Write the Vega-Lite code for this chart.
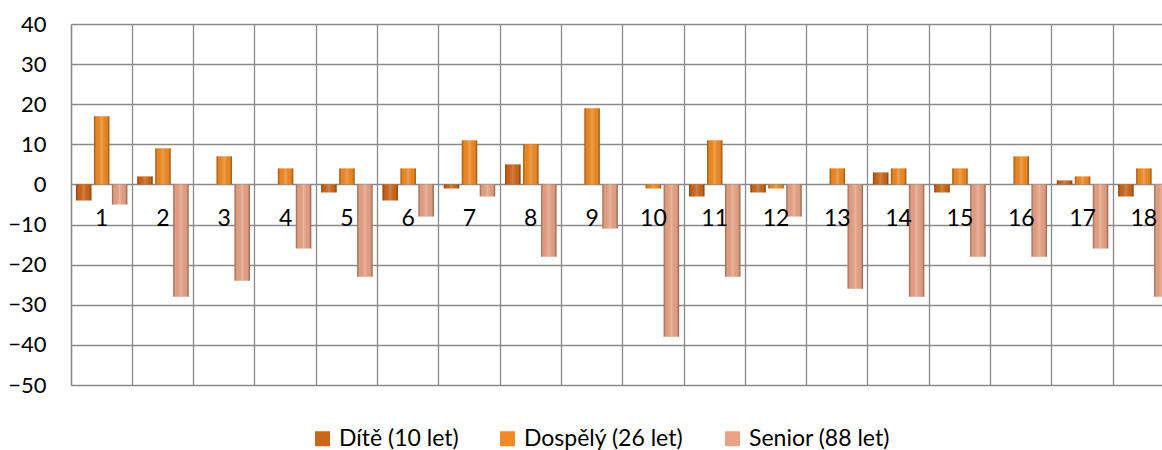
{
  "$schema": "https://vega.github.io/schema/vega-lite/v6.json",
  "width": 1103.5,
  "height": 361,
  "autosize": {"type": "none"},
  "padding": {"left": 71, "top": 24, "right": 0, "bottom": 65},
  "background": "white",
  "config": {"view": {"stroke": null}, "font": "Lato"},
  "data": {
    "values": [
      {"cat": 1, "series": "Dítě (10 let)", "value": -4},
      {"cat": 1, "series": "Dospělý (26 let)", "value": 17},
      {"cat": 1, "series": "Senior (88 let)", "value": -5},
      {"cat": 2, "series": "Dítě (10 let)", "value": 2},
      {"cat": 2, "series": "Dospělý (26 let)", "value": 9},
      {"cat": 2, "series": "Senior (88 let)", "value": -28},
      {"cat": 3, "series": "Dítě (10 let)", "value": 0},
      {"cat": 3, "series": "Dospělý (26 let)", "value": 7},
      {"cat": 3, "series": "Senior (88 let)", "value": -24},
      {"cat": 4, "series": "Dítě (10 let)", "value": 0},
      {"cat": 4, "series": "Dospělý (26 let)", "value": 4},
      {"cat": 4, "series": "Senior (88 let)", "value": -16},
      {"cat": 5, "series": "Dítě (10 let)", "value": -2},
      {"cat": 5, "series": "Dospělý (26 let)", "value": 4},
      {"cat": 5, "series": "Senior (88 let)", "value": -23},
      {"cat": 6, "series": "Dítě (10 let)", "value": -4},
      {"cat": 6, "series": "Dospělý (26 let)", "value": 4},
      {"cat": 6, "series": "Senior (88 let)", "value": -8},
      {"cat": 7, "series": "Dítě (10 let)", "value": -1},
      {"cat": 7, "series": "Dospělý (26 let)", "value": 11},
      {"cat": 7, "series": "Senior (88 let)", "value": -3},
      {"cat": 8, "series": "Dítě (10 let)", "value": 5},
      {"cat": 8, "series": "Dospělý (26 let)", "value": 10},
      {"cat": 8, "series": "Senior (88 let)", "value": -18},
      {"cat": 9, "series": "Dítě (10 let)", "value": 0},
      {"cat": 9, "series": "Dospělý (26 let)", "value": 19},
      {"cat": 9, "series": "Senior (88 let)", "value": -11},
      {"cat": 10, "series": "Dítě (10 let)", "value": 0},
      {"cat": 10, "series": "Dospělý (26 let)", "value": -1},
      {"cat": 10, "series": "Senior (88 let)", "value": -38},
      {"cat": 11, "series": "Dítě (10 let)", "value": -3},
      {"cat": 11, "series": "Dospělý (26 let)", "value": 11},
      {"cat": 11, "series": "Senior (88 let)", "value": -23},
      {"cat": 12, "series": "Dítě (10 let)", "value": -2},
      {"cat": 12, "series": "Dospělý (26 let)", "value": -1},
      {"cat": 12, "series": "Senior (88 let)", "value": -8},
      {"cat": 13, "series": "Dítě (10 let)", "value": 0},
      {"cat": 13, "series": "Dospělý (26 let)", "value": 4},
      {"cat": 13, "series": "Senior (88 let)", "value": -26},
      {"cat": 14, "series": "Dítě (10 let)", "value": 3},
      {"cat": 14, "series": "Dospělý (26 let)", "value": 4},
      {"cat": 14, "series": "Senior (88 let)", "value": -28},
      {"cat": 15, "series": "Dítě (10 let)", "value": -2},
      {"cat": 15, "series": "Dospělý (26 let)", "value": 4},
      {"cat": 15, "series": "Senior (88 let)", "value": -18},
      {"cat": 16, "series": "Dítě (10 let)", "value": 0},
      {"cat": 16, "series": "Dospělý (26 let)", "value": 7},
      {"cat": 16, "series": "Senior (88 let)", "value": -18},
      {"cat": 17, "series": "Dítě (10 let)", "value": 1},
      {"cat": 17, "series": "Dospělý (26 let)", "value": 2},
      {"cat": 17, "series": "Senior (88 let)", "value": -16},
      {"cat": 18, "series": "Dítě (10 let)", "value": -3},
      {"cat": 18, "series": "Dospělý (26 let)", "value": 4},
      {"cat": 18, "series": "Senior (88 let)", "value": -28}
    ]
  },
  "encoding": {
    "x": {
      "field": "cat",
      "type": "ordinal",
      "scale": {"paddingInner": 0, "paddingOuter": 0},
      "axis": {
        "grid": true,
        "bandPosition": 0,
        "gridColor": "#8a8a8a",
        "gridWidth": 1.3,
        "labels": false,
        "ticks": false,
        "domain": false,
        "title": null
      }
    },
    "y": {
      "field": "value",
      "type": "quantitative",
      "scale": {"domain": [-50, 40], "nice": false},
      "axis": {
        "values": [-50, -40, -30, -20, -10, 0, 10, 20, 30, 40],
        "grid": true,
        "gridColor": "#8a8a8a",
        "gridWidth": 1.3,
        "domain": true,
        "domainColor": "#8a8a8a",
        "domainWidth": 1.3,
        "ticks": false,
        "labelFontSize": 22,
        "labelColor": "#000000",
        "labelPadding": 25,
        "title": null
      }
    }
  },
  "layer": [
    {
      "mark": {"type": "bar"},
      "encoding": {
        "xOffset": {
          "field": "series",
          "type": "nominal",
          "sort": ["Dítě (10 let)", "Dospělý (26 let)", "Senior (88 let)"],
          "scale": {"paddingInner": 0.14, "paddingOuter": 0.275}
        },
        "color": {
          "field": "series",
          "type": "nominal",
          "sort": ["Dítě (10 let)", "Dospělý (26 let)", "Senior (88 let)"],
          "scale": {
            "domain": ["Dítě (10 let)", "Dospělý (26 let)", "Senior (88 let)"],
            "range": ["#cc6618", "#f08a24", "#e8a386"]
          },
          "legend": {
            "title": null,
            "orient": "none",
            "direction": "horizontal",
            "legendX": 240,
            "legendY": 403,
            "symbolType": "square",
            "symbolSize": 225,
            "symbolStrokeWidth": 0,
            "labelFontSize": 23,
            "labelColor": "#000000",
            "labelOffset": 5,
            "columnPadding": 37,
            "padding": 0
          }
        }
      }
    },
    {
      "mark": {
        "type": "bar",
        "color": {
          "gradient": "linear",
          "x1": 0, "x2": 1, "y1": 0, "y2": 0,
          "stops": [
            {"offset": 0, "color": "rgba(60,20,0,0.4)"},
            {"offset": 0.15, "color": "rgba(0,0,0,0.03)"},
            {"offset": 0.5, "color": "rgba(255,255,255,0.18)"},
            {"offset": 0.85, "color": "rgba(0,0,0,0.03)"},
            {"offset": 1, "color": "rgba(60,20,0,0.45)"}
          ]
        }
      },
      "encoding": {
        "xOffset": {
          "field": "series",
          "type": "nominal",
          "sort": ["Dítě (10 let)", "Dospělý (26 let)", "Senior (88 let)"],
          "scale": {"paddingInner": 0.14, "paddingOuter": 0.275}
        }
      }
    },
    {
      "transform": [{"filter": "datum.series === 'Dospělý (26 let)'"}],
      "mark": {"type": "text", "fontSize": 23, "baseline": "alphabetic", "dy": 42, "color": "#000000"},
      "encoding": {
        "y": {"datum": 0},
        "text": {"field": "cat", "type": "ordinal"}
      }
    }
  ]
}
